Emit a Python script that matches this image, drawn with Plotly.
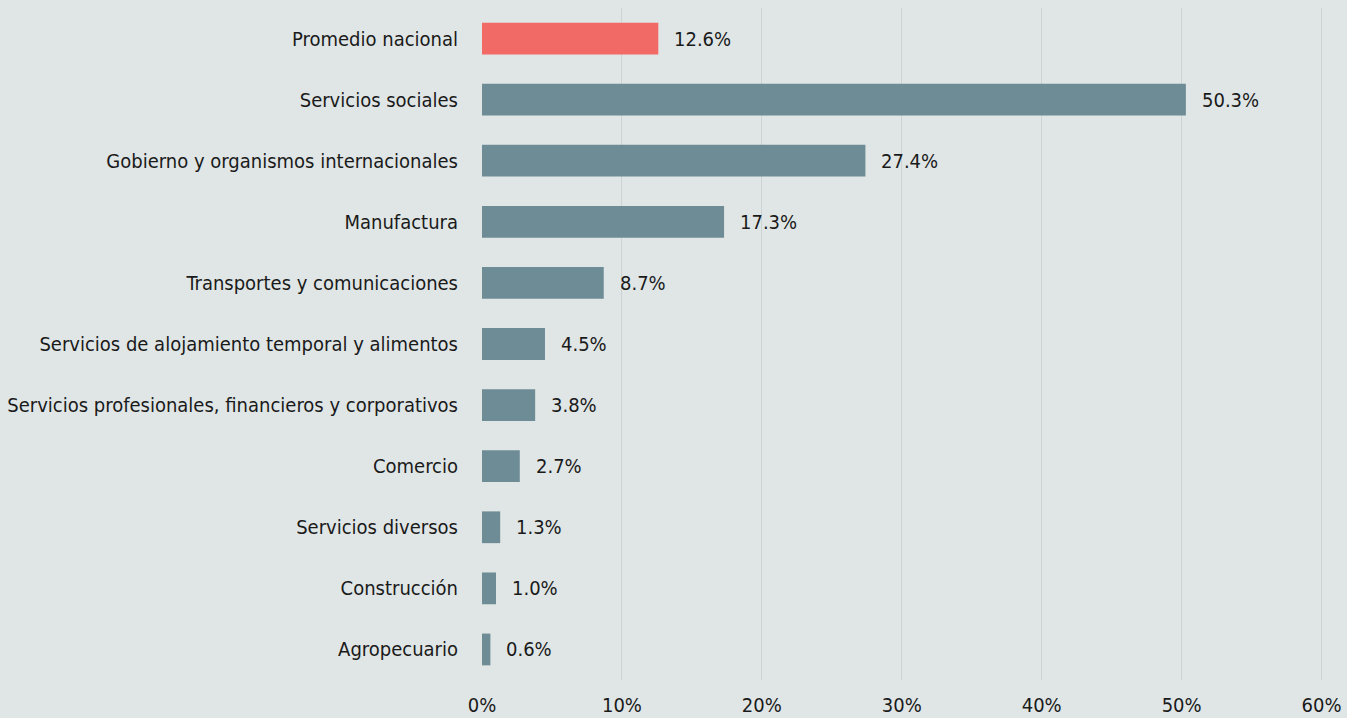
import plotly.graph_objects as go

categories = [
    "Promedio nacional",
    "Servicios sociales",
    "Gobierno y organismos internacionales",
    "Manufactura",
    "Transportes y comunicaciones",
    "Servicios de alojamiento temporal y alimentos",
    "Servicios profesionales, financieros y corporativos",
    "Comercio",
    "Servicios diversos",
    "Construcción",
    "Agropecuario",
]
values = [12.6, 50.3, 27.4, 17.3, 8.7, 4.5, 3.8, 2.7, 1.3, 1.0, 0.6]
tick_vals = [0, 10, 20, 30, 40, 50, 60]
tick_text = ["0%", "10%", "20%", "30%", "40%", "50%", "60%"]

highlight = "#f26a65"
base = "#6e8c96"
colors = [highlight if c == "Promedio nacional" else base for c in categories]

FONT = "DejaVu Sans Condensed, Liberation Sans Narrow, sans-serif"
FS = 20

fig = go.Figure(
    go.Bar(
        x=values,
        y=categories,
        orientation="h",
        marker=dict(color=colors, line=dict(width=0)),
        hoverinfo="skip",
    )
)

for c, v in zip(categories, values):
    fig.add_annotation(
        x=v, y=c, text=f"{v:.1f}%", showarrow=False,
        xanchor="left", yanchor="middle", xshift=14,
        font=dict(family=FONT, size=FS, color="#1a1a1a"),
    )

fig.update_layout(
    width=1347, height=718,
    paper_bgcolor="#e0e6e6", plot_bgcolor="#e0e6e6",
    margin=dict(l=482, r=24, t=8, b=38, autoexpand=False),
    bargap=0.48,
    showlegend=False,
    font=dict(family=FONT, size=FS, color="#1a1a1a"),
)
fig.update_xaxes(
    range=[0, 60.1], tickvals=tick_vals, ticktext=tick_text,
    showgrid=True, gridcolor="#cdd3d3", gridwidth=1,
    zeroline=False, showline=False, automargin=False,
    ticks="outside", ticklen=7, tickcolor="rgba(0,0,0,0)",
    tickfont=dict(family=FONT, size=FS, color="#1a1a1a"),
    fixedrange=True,
)
fig.update_yaxes(
    autorange="reversed", categoryorder="array", categoryarray=categories,
    showgrid=False, zeroline=False, showline=False, automargin=False,
    ticks="outside", ticklen=19, tickcolor="rgba(0,0,0,0)",
    tickfont=dict(family=FONT, size=FS, color="#1a1a1a"),
    fixedrange=True,
)

fig.write_html(
    "out.html",
    config={"displayModeBar": False},
    post_script="document.body.style.margin='0';document.body.style.background='#e0e6e6';",
)
